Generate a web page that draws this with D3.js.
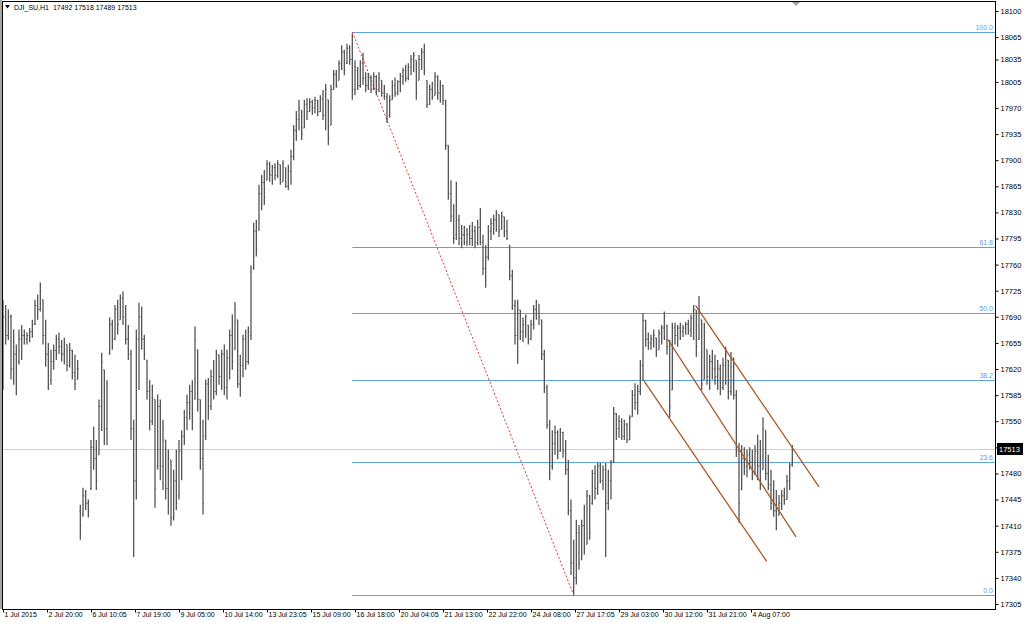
<!DOCTYPE html>
<html>
<head>
<meta charset="utf-8">
<script src="https://cdn.jsdelivr.net/npm/d3@7"></script>
<style>
  body { margin: 0; background: #fff; }
  svg { display: block; }
  text { font-family: "Liberation Sans", Arial, sans-serif; }
</style>
</head>
<body>
<div id="chart"></div>
<script>
// DJI_SU H1, 1 Jul - 4 Aug 2015, one bar per 2 hourly slots: [open, high, low, close]
const ohlc = [
[17600,17713,17592,17690],[17690,17706,17653,17665],[17665,17700,17659,17690],[17690,17693,17606,17620],
[17620,17673,17599,17640],[17640,17653,17585,17600],[17630,17673,17626,17660],[17660,17679,17632,17665],
[17665,17673,17653,17660],[17660,17669,17653,17665],[17665,17675,17656,17670],[17670,17686,17662,17680],
[17680,17713,17679,17705],[17705,17720,17686,17700],[17700,17736,17697,17725],[17713,17713,17653,17665],
[17665,17686,17623,17640],[17640,17655,17592,17600],[17605,17646,17599,17630],[17630,17653,17619,17645],
[17645,17666,17632,17660],[17660,17669,17640,17650],[17650,17659,17630,17640],[17640,17662,17626,17655],
[17653,17653,17617,17625],[17625,17655,17622,17645],[17645,17646,17606,17615],[17615,17639,17592,17600],
[17606,17632,17606,17620],[17430,17438,17391,17410],[17425,17461,17422,17450],[17450,17458,17431,17440],
[17440,17445,17421,17430],[17460,17525,17458,17515],[17515,17543,17485,17500],[17500,17525,17458,17470],
[17505,17579,17505,17570],[17570,17642,17537,17630],[17619,17619,17518,17540],[17540,17605,17518,17600],
[17640,17689,17639,17680],[17680,17686,17646,17660],[17660,17706,17659,17700],[17700,17713,17666,17680],
[17686,17720,17686,17715],[17715,17724,17679,17690],[17690,17706,17653,17660],[17660,17679,17632,17640],
[17640,17646,17525,17540],[17540,17552,17368,17470],[17470,17673,17445,17660],[17660,17709,17592,17690],
[17690,17704,17646,17660],[17660,17666,17632,17640],[17632,17632,17579,17590],[17590,17605,17538,17550],
[17550,17599,17545,17580],[17579,17579,17434,17460],[17490,17586,17485,17570],[17570,17579,17471,17490],
[17490,17552,17458,17540],[17525,17525,17445,17460],[17460,17512,17425,17500],[17498,17498,17410,17420],
[17420,17485,17417,17470],[17470,17512,17431,17440],[17450,17525,17445,17510],[17510,17538,17471,17530],
[17530,17565,17518,17555],[17555,17586,17538,17575],[17575,17599,17552,17590],[17590,17605,17538,17550],
[17580,17677,17579,17660],[17646,17646,17563,17580],[17579,17579,17485,17500],[17500,17552,17425,17440],
[17530,17606,17525,17600],[17600,17608,17552,17570],[17570,17619,17565,17610],[17610,17632,17579,17590],
[17590,17646,17585,17640],[17639,17639,17599,17610],[17610,17646,17592,17640],[17640,17653,17585,17595],
[17595,17646,17579,17635],[17635,17673,17606,17665],[17665,17693,17619,17630],[17646,17710,17646,17700],
[17686,17686,17595,17600],[17600,17639,17583,17625],[17625,17666,17609,17660],[17660,17673,17619,17630],
[17630,17677,17626,17670],[17665,17759,17659,17750],[17755,17816,17753,17805],[17805,17820,17771,17780],
[17806,17867,17806,17855],[17855,17880,17833,17870],[17870,17887,17840,17850],[17873,17900,17873,17895],
[17895,17898,17871,17880],[17880,17894,17867,17890],[17890,17896,17873,17880],[17880,17900,17876,17895],
[17894,17894,17867,17870],[17871,17900,17871,17895],[17890,17890,17863,17865],[17865,17894,17860,17885],
[17885,17914,17867,17905],[17905,17947,17900,17940],[17940,17966,17926,17955],[17955,17981,17940,17970],
[17967,17967,17927,17935],[17943,17981,17943,17975],[17975,17983,17954,17965],[17965,17983,17965,17978],
[17978,17981,17961,17970],[17970,17985,17963,17980],[17980,17981,17959,17965],[17965,17987,17965,17982],
[17982,17994,17954,17960],[17960,18002,17940,17995],[17981,17981,17920,17930],[17947,18001,17947,17995],
[17995,18021,17994,18015],[18015,18021,17997,18000],[18007,18034,18007,18030],[18030,18054,18021,18045],
[18045,18048,18014,18020],[18030,18056,18029,18050],[18050,18054,18028,18035],[18035,18070,17981,17995],
[17995,18034,17987,18025],[18020,18025,17994,18000],[18000,18034,17997,18030],[18030,18044,18001,18010],
[18010,18018,17991,18000],[18000,18017,17994,18010],[18010,18014,17990,17995],[17995,18018,17994,18012],
[18012,18014,17987,17995],[17995,18018,17991,18010],[18007,18007,17985,17990],[17990,18001,17981,17985],
[17985,17990,17950,17955],[17960,17987,17957,17980],[17981,18007,17981,18000],[18000,18011,17985,17990],
[17990,18007,17987,18005],[18005,18017,17991,18012],[18012,18024,18001,18020],[18020,18028,18005,18010],
[18010,18030,18007,18025],[18025,18041,18014,18035],[18035,18045,18018,18040],[18034,18034,17981,17990],
[18007,18041,18007,18035],[18035,18050,18021,18045],[18045,18056,18014,18020],[18007,18007,17970,17975],
[17975,18001,17974,17995],[17995,18005,17981,17985],[17987,18018,17987,18012],[18012,18014,17981,17990],
[17990,18007,17977,18000],[18000,18001,17974,17980],[17980,17981,17914,17920],[17920,17920,17847,17855],
[17855,17873,17817,17825],[17825,17841,17788,17795],[17800,17871,17793,17820],[17820,17827,17786,17795],
[17795,17813,17782,17800],[17800,17812,17786,17790],[17790,17809,17785,17800],[17800,17813,17786,17795],
[17795,17817,17785,17805],[17805,17812,17782,17790],[17790,17820,17786,17810],[17810,17836,17786,17790],
[17790,17800,17746,17755],[17755,17786,17729,17770],[17770,17813,17766,17805],[17805,17822,17793,17815],
[17815,17827,17800,17820],[17820,17833,17804,17828],[17827,17827,17797,17805],[17807,17831,17807,17825],
[17824,17824,17797,17805],[17805,17820,17793,17795],[17786,17786,17739,17745],[17745,17753,17699,17705],
[17705,17713,17653,17665],[17665,17713,17627,17700],[17699,17699,17659,17670],[17670,17689,17656,17680],
[17680,17693,17662,17690],[17679,17679,17653,17660],[17660,17686,17659,17680],[17680,17706,17673,17700],
[17700,17713,17686,17710],[17707,17707,17679,17690],[17686,17686,17632,17640],[17640,17646,17588,17595],
[17595,17599,17540,17545],[17545,17552,17471,17480],[17490,17538,17485,17520],[17520,17544,17505,17535],
[17535,17538,17499,17510],[17510,17541,17509,17535],[17535,17536,17501,17510],[17510,17525,17478,17485],
[17485,17498,17424,17430],[17430,17445,17344,17360],[17360,17391,17317,17340],[17340,17418,17331,17400],
[17400,17411,17351,17360],[17364,17418,17364,17410],[17410,17438,17371,17380],[17385,17458,17385,17450],
[17450,17451,17391,17400],[17440,17485,17438,17480],[17480,17491,17445,17460],[17460,17494,17451,17490],
[17490,17494,17467,17470],[17470,17491,17458,17485],[17485,17494,17368,17440],[17440,17485,17431,17470],
[17470,17498,17445,17495],[17495,17569,17494,17560],[17560,17561,17525,17540],[17540,17558,17528,17550],
[17550,17554,17525,17530],[17530,17552,17525,17545],[17545,17548,17521,17525],[17525,17558,17525,17555],
[17556,17592,17556,17585],[17585,17601,17565,17575],[17575,17599,17559,17590],[17590,17632,17585,17625],
[17625,17695,17604,17685],[17685,17686,17650,17660],[17660,17669,17646,17655],[17655,17666,17646,17660],
[17660,17673,17649,17665],[17662,17662,17636,17645],[17646,17673,17646,17668],[17668,17679,17653,17675],
[17675,17697,17659,17690],[17679,17679,17639,17650],[17650,17659,17555,17570],[17592,17682,17592,17675],
[17675,17682,17653,17665],[17665,17679,17650,17675],[17675,17682,17659,17670],[17670,17679,17663,17675],
[17675,17683,17666,17680],[17680,17686,17666,17672],[17672,17693,17663,17688],[17688,17706,17659,17700],
[17699,17699,17636,17650],[17660,17718,17659,17700],[17686,17686,17592,17600],[17606,17682,17606,17670],
[17646,17646,17599,17610],[17610,17639,17592,17630],[17630,17646,17606,17620],[17620,17639,17599,17610],
[17610,17632,17592,17620],[17620,17626,17585,17595],[17595,17635,17592,17625],[17625,17650,17599,17640],
[17632,17632,17579,17590],[17590,17643,17585,17635],[17635,17635,17579,17585],[17585,17592,17502,17510],
[17510,17521,17414,17440],[17458,17518,17458,17500],[17500,17515,17478,17490],[17490,17512,17475,17505],
[17505,17515,17485,17495],[17495,17512,17471,17480],[17480,17518,17478,17510],[17510,17532,17471,17490],
[17490,17525,17458,17470],[17485,17555,17485,17540],[17538,17538,17471,17480],[17480,17505,17458,17465],
[17465,17485,17431,17440],[17440,17471,17422,17430],[17430,17458,17404,17415],[17424,17451,17424,17440],
[17440,17458,17431,17450],[17450,17461,17438,17445],[17445,17478,17445,17470],[17470,17494,17458,17490],
[17492,17518,17489,17513]
];
const slotsPerBar = 2;

const timeLabels = ['1 Jul 2015','2 Jul 20:00','6 Jul 10:05','7 Jul 19:00','9 Jul 05:00','10 Jul 14:00',
  '13 Jul 23:05','15 Jul 09:00','16 Jul 18:00','20 Jul 04:05','21 Jul 13:00','22 Jul 22:00',
  '24 Jul 08:00','27 Jul 17:05','29 Jul 03:00','30 Jul 12:00','31 Jul 21:00','4 Aug 07:00'];
const timeLabelSlots = [0,33,66,99,132,165,198,231,264,297,330,363,396,429,462,495,528,561];

const priceTicks = [18100,18065,18035,18005,17970,17935,17900,17865,17830,17795,17760,17725,
  17690,17655,17620,17585,17550,17515,17480,17445,17410,17375,17340,17305];

// fibonacci retracement anchors: [slot, price]
const fibHigh = [262, 18072];
const fibLow = [428, 17317];
const fibLevels = [0, 23.6, 38.2, 50, 61.8, 100];

// channel lines: [slot1, price1, slot2, price2]
const channels = [
  [519.5, 17705, 612, 17462],
  [498.5, 17660, 594.75, 17395],
  [480.75, 17604, 572.8, 17362]
];

const lastPrice = 17513;
const title = 'DJI_SU,H1  17492 17518 17489 17513';

const W = 1024, H = 623;
const plot = { left: 2, right: 995, top: 1, bottom: 609 };

const svg = d3.select('#chart').append('svg')
    .attr('width', W)
    .attr('height', H);

const x = d3.scaleLinear().domain([0, 744]).range([3, 995]);
const y = d3.scaleLinear().domain([17305, 18100]).range([604, 11]);

svg.append('rect').attr('width', W).attr('height', H).attr('fill', '#fff');

// current price line
svg.append('line')
    .attr('x1', plot.left).attr('x2', plot.right)
    .attr('y1', Math.round(y(lastPrice)) + 0.5).attr('y2', Math.round(y(lastPrice)) + 0.5)
    .attr('stroke', '#d0d0d0').attr('stroke-width', 1);

// fibo levels
const fibVal = lv => fibLow[1] + (fibHigh[1] - fibLow[1]) * lv / 100;
const fib = svg.append('g');
fib.selectAll('line')
    .data(fibLevels)
    .join('line')
    .attr('x1', x(fibHigh[0])).attr('x2', plot.right)
    .attr('y1', d => Math.round(y(fibVal(d))) + 0.5)
    .attr('y2', d => Math.round(y(fibVal(d))) + 0.5)
    .attr('stroke', '#5ea2e0').attr('stroke-width', 1);
fib.selectAll('text')
    .data(fibLevels)
    .join('text')
    .attr('x', plot.right - 2)
    .attr('y', d => Math.round(y(fibVal(d))) - 2)
    .attr('text-anchor', 'end')
    .attr('font-size', 7)
    .attr('fill', '#5ea2e0')
    .text(d => d.toFixed(1));

// dotted trendline of the retracement
svg.append('line')
    .attr('x1', x(fibHigh[0])).attr('y1', y(fibHigh[1]))
    .attr('x2', x(fibLow[0])).attr('y2', y(fibLow[1]))
    .attr('stroke', '#e0201a').attr('stroke-width', 0.9)
    .attr('stroke-dasharray', '2,2');

// bars
const bars = svg.append('g')
    .attr('stroke', '#555')
    .attr('stroke-width', 1.3);
const barG = bars.selectAll('g')
    .data(ohlc)
    .join('g')
    .attr('transform', (d, i) => `translate(${x(i * slotsPerBar)},0)`);
barG.append('line')
    .attr('y1', d => y(d[1]))
    .attr('y2', d => y(d[2]));
barG.append('line')
    .attr('x1', -1).attr('x2', 0)
    .attr('stroke-width', 1)
    .attr('y1', d => y(d[0])).attr('y2', d => y(d[0]));
barG.append('line')
    .attr('x1', 0).attr('x2', 1)
    .attr('stroke-width', 1)
    .attr('y1', d => y(d[3])).attr('y2', d => y(d[3]));

// channel lines
svg.append('g')
    .selectAll('line')
    .data(channels)
    .join('line')
    .attr('x1', d => x(d[0])).attr('y1', d => y(d[1]))
    .attr('x2', d => x(d[2])).attr('y2', d => y(d[3]))
    .attr('stroke', '#a85a28').attr('stroke-width', 1.3);

// frame
svg.append('rect')
    .attr('x', plot.left + 0.5).attr('y', plot.top + 0.5)
    .attr('width', plot.right - plot.left).attr('height', plot.bottom - plot.top)
    .attr('fill', 'none').attr('stroke', '#000').attr('stroke-width', 1);
svg.append('rect')
    .attr('x', 0).attr('y', 0).attr('width', 2).attr('height', plot.bottom)
    .attr('fill', '#a8a8a8');

// right price axis
const yAxis = svg.append('g')
    .attr('transform', `translate(${plot.right + 0.5},0)`)
    .call(d3.axisRight(y).tickValues(priceTicks).tickSize(3).tickPadding(2).tickFormat(d3.format('d')));
yAxis.select('.domain').remove();
yAxis.selectAll('text').attr('font-size', 7.5).attr('fill', '#000').attr('font-family', '"Liberation Sans", Arial, sans-serif');
yAxis.selectAll('line').attr('stroke', '#000');

// last price label
const ly = Math.round(y(lastPrice));
svg.append('rect')
    .attr('x', plot.right + 2).attr('y', ly - 6)
    .attr('width', 26).attr('height', 12)
    .attr('fill', '#000');
svg.append('text')
    .attr('x', plot.right + 4).attr('y', ly + 3)
    .attr('font-size', 7.5).attr('fill', '#fff')
    .text(lastPrice);

// bottom time axis
const xAxis = svg.append('g')
    .attr('transform', `translate(0,${plot.bottom + 0.5})`)
    .call(d3.axisBottom(x).tickValues(timeLabelSlots).tickSize(3).tickFormat((d, i) => timeLabels[i]));
xAxis.select('.domain').remove();
xAxis.selectAll('line').attr('stroke', '#000');
xAxis.selectAll('text')
    .attr('font-size', 7).attr('fill', '#000')
    .attr('font-family', '"Liberation Sans", Arial, sans-serif')
    .attr('text-anchor', 'start')
    .attr('x', 1).attr('y', 3).attr('dy', '0.71em');

// title and shift marker
svg.append('path')
    .attr('d', 'M5,5 L10,5 L7.5,8.5 Z')
    .attr('fill', '#000');
svg.append('text')
    .attr('x', 14).attr('y', 10)
    .attr('font-size', 7).attr('fill', '#000')
    .style('white-space', 'pre')
    .text(title);
svg.append('path')
    .attr('d', 'M792,2 L800,2 L796,6 Z')
    .attr('fill', '#a0a0a0');
</script>
</body>
</html>
